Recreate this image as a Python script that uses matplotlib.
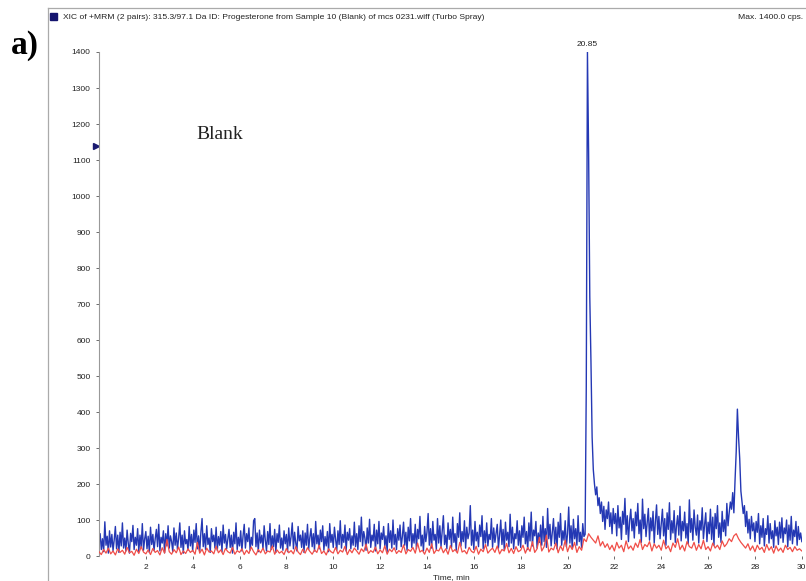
import matplotlib
matplotlib.use("Agg")
import matplotlib.pyplot as plt
import numpy as np
from matplotlib.lines import Line2D
from matplotlib.patches import Rectangle

# XIC intensity (cps), blue trace sampled every 0.05 min from 0 to 30 min
blue_0_10 = [
    35, 62, 18, 48, 12, 95, 30, 55, 8, 70, 25, 60, 15, 45, 82, 20, 58, 10, 66, 28,
    92, 22, 50, 14, 72, 35, 8, 63, 40, 85, 18, 52, 30, 76, 12, 58, 24, 90, 16, 47,
    68, 20, 55, 10, 80, 32, 60, 15, 48, 74, 26, 88, 14, 52, 36, 70, 9, 62, 28, 84,
    22, 56, 40, 12, 78, 30, 64, 18, 50, 92, 24, 58, 8, 70, 34, 46, 16, 82, 28, 60,
    14, 72, 38, 90, 20, 56, 12, 66, 104, 26, 62, 18, 84, 32, 50, 10, 76, 40, 58, 22,
    80, 16, 54, 30, 68, 12, 86, 36, 60, 20, 48, 74, 24, 58, 8, 66, 34, 92, 18, 52,
    28, 70, 14, 56, 88, 22, 62, 40, 78, 16, 52, 30, 98, 104, 26, 64, 12, 72, 36, 58,
    20, 84, 44, 14, 68, 32, 90, 18, 56, 26, 74, 10, 62, 38, 86, 22, 50, 16, 70, 34,
    60, 12, 78, 28, 54, 92, 20, 66, 36, 14, 82, 42, 58, 24, 70, 10, 64, 30, 88, 18,
    52, 76, 26, 62, 14, 96, 34, 58, 20, 72, 40, 84, 16, 54, 28, 68, 12, 90, 38, 60,
]
blue_10_20 = [
    24, 80, 46, 16, 70, 32, 98, 22, 60, 38, 86, 14, 66, 44, 76, 20, 56, 30, 94, 26,
    62, 18, 84, 40, 108, 28, 68, 50, 16, 78, 36, 102, 24, 58, 42, 88, 14, 72, 34, 96,
    20, 64, 46, 82, 28, 56, 12, 90, 38, 70, 22, 100, 32, 60, 18, 76, 44, 86, 26, 54,
    94, 30, 66, 16, 80, 42, 104, 24, 62, 36, 88, 20, 74, 48, 110, 28, 58, 14, 82, 40,
    66, 118, 30, 76, 22, 96, 44, 60, 18, 104, 36, 84, 26, 70, 112, 32, 58, 20, 92, 46,
    74, 24, 108, 38, 62, 16, 90, 52, 120, 28, 68, 40, 98, 22, 80, 48, 64, 140, 30, 72,
    18, 96, 42, 66, 26, 86, 54, 112, 20, 70, 36, 92, 28, 60, 46, 104, 24, 78, 38, 64,
    88, 22, 58, 100, 32, 74, 16, 94, 44, 66, 26, 116, 36, 80, 20, 62, 48, 98, 30, 70,
    24, 84, 52, 108, 34, 68, 18, 92, 42, 122, 28, 72, 56, 96, 22, 64, 38, 86, 30, 110,
    40, 76, 24, 132, 48, 88, 28, 66, 104, 34, 80, 20, 94, 52, 118, 30, 70, 44, 98, 26,
]
blue_20_30 = [
    62, 136, 36, 84, 22, 102, 48, 76, 30, 112, 40, 66, 24, 90, 54, 60, 470, 1400, 1120, 720,
    540, 330, 240, 200, 170, 192, 140, 162, 118, 150, 96, 138, 74, 128, 104, 150, 82, 120, 62, 132,
    90, 118, 56, 140, 78, 108, 46, 124, 88, 160, 60, 112, 40, 98, 130, 70, 104, 50, 122, 84,
    146, 62, 100, 38, 158, 76, 116, 54, 92, 132, 44, 106, 70, 124, 36, 96, 142, 60, 110, 48,
    88, 130, 56, 104, 30, 120, 74, 148, 46, 98, 64, 126, 38, 84, 112, 58, 138, 42, 96, 70,
    122, 50, 90, 34, 156, 66, 104, 44, 128, 80, 58, 114, 36, 98, 72, 134, 48, 86, 120, 40,
    94, 62, 130, 46, 108, 30, 118, 76, 140, 52, 92, 38, 124, 68, 100, 56, 146, 84, 120, 150,
    130, 176, 120, 210, 290, 408, 330, 270, 180, 150, 118, 140, 82, 124, 64, 102, 48, 110, 70, 92,
    40, 96, 66, 118, 34, 84, 52, 104, 28, 76, 60, 112, 36, 90, 48, 70, 24, 98, 56, 80,
    32, 94, 50, 106, 38, 78, 62, 100, 26, 86, 44, 110, 34, 72, 54, 96, 30, 82, 46, 64,
    40,
]

# red trace sampled every 0.1 min from 0 to 30 min
red_0_10 = [
    12, 4, 18, 8, 22, 6, 14, 3, 20, 10, 16, 5, 24, 9, 13, 2, 19, 7, 26, 11,
    6, 17, 4, 21, 10, 15, 3, 23, 8, 46, 12, 5, 18, 9, 25, 4, 14, 7, 20, 10,
    16, 5, 38, 8, 19, 3, 22, 11, 14, 6, 27, 9, 17, 4, 21, 12, 8, 24, 5, 15,
    10, 20, 4, 16, 7, 25, 12, 3, 18, 9, 22, 6, 14, 11, 28, 5, 17, 8, 13, 4,
    21, 9, 15, 6, 26, 11, 4, 19, 8, 23, 13, 5, 17, 10, 30, 7, 14, 3, 20, 12,
]
red_10_20 = [
    8, 24, 6, 16, 11, 27, 4, 18, 9, 22, 14, 5, 20, 12, 33, 7, 15, 10, 25, 6,
    17, 9, 28, 5, 19, 12, 23, 7, 15, 10, 31, 6, 18, 13, 24, 8, 36, 11, 16, 5,
    22, 10, 34, 7, 17, 14, 26, 9, 20, 5, 29, 12, 18, 8, 38, 11, 15, 6, 24, 13,
    9, 27, 5, 19, 12, 32, 8, 16, 22, 10, 28, 6, 18, 14, 35, 9, 21, 7, 26, 12,
    16, 30, 8, 24, 13, 40, 10, 20, 52, 14, 26, 58, 11, 22, 17, 36, 9, 28, 15, 44,
]
red_20_30 = [
    12, 30, 18, 38, 10, 26, 16, 48, 40, 62, 52, 44, 36, 56, 28, 40, 24, 34, 18, 30,
    14, 38, 22, 30, 12, 42, 20, 28, 16, 36, 24, 46, 18, 32, 26, 40, 14, 34, 22, 30,
    16, 44, 20, 28, 12, 36, 24, 48, 18, 30, 14, 40, 26, 22, 38, 16, 32, 20, 44, 18,
    26, 14, 36, 22, 30, 18, 42, 26, 34, 48, 40, 56, 62, 48, 38, 30, 22, 34, 16, 28,
    12, 30, 18, 24, 10, 32, 16, 26, 8, 28, 14, 22, 10, 30, 18, 24, 12, 26, 16, 20,
    14,
]

x_ticks = list(range(2, 31, 2))
y_ticks = list(range(0, 1401, 100))

blue = np.array(blue_0_10 + blue_10_20 + blue_20_30, dtype=float)
red = np.array(red_0_10 + red_10_20 + red_20_30, dtype=float)
t_blue = np.linspace(0, 30, len(blue))
t_red = np.linspace(0, 30, len(red))

small = ['Liberation Sans Narrow', 'Liberation Sans', 'DejaVu Sans']

fig = plt.figure(figsize=(8.06, 5.81), dpi=100)
ax = fig.add_axes([0.1228, 0.043, 0.872, 0.8675])

ax.plot(t_blue, blue, color='#2438b4', lw=1.0, zorder=2)
ax.plot(t_red, red, color='#f04e48', lw=0.9, zorder=3)

ax.set_xlim(0, 30)
ax.set_ylim(0, 1400)
ax.set_xticks(x_ticks)
ax.set_yticks(y_ticks)
ax.tick_params(axis='both', labelsize=6, colors='#555555', labelcolor='#222222', length=2.5, width=0.6)
for lab in ax.get_xticklabels() + ax.get_yticklabels():
    lab.set_family(small)
for s in ['top', 'right', 'bottom']:
    ax.spines[s].set_visible(False)
ax.spines['left'].set_color('#999999')
ax.spines['left'].set_linewidth(0.8)

# apex label
i_max = int(np.argmax(blue))
ax.annotate(f'{t_blue[i_max]:.2f}', xy=(t_blue[i_max], blue[i_max]), xytext=(0, 3),
            textcoords='offset points', ha='center', va='bottom', fontsize=6,
            family=small, color='#222222', annotation_clip=False)

# cursor marker on the y axis
ax.plot([-0.004], [1140], marker='>', color='#1a1a70', markersize=4,
        transform=ax.get_yaxis_transform(), clip_on=False)

ax.text(0.138, 0.837, 'Blank', transform=ax.transAxes, family='Liberation Serif',
        fontsize=14, ha='left', va='center', color='#222222')

# outer frame and header
fig.add_artist(Line2D([0.0596, 0.0596], [0.0, 0.986], color='#aaaaaa', lw=0.9))
fig.add_artist(Line2D([0.0596, 1.0], [0.986, 0.986], color='#aaaaaa', lw=0.9))
fig.add_artist(Rectangle((0.062, 0.9655), 0.0087, 0.012, color='#14146e'))
fig.text(0.078, 0.9705,
         'XIC of +MRM (2 pairs): 315.3/97.1 Da ID: Progesterone from Sample 10 (Blank) of mcs 0231.wiff (Turbo Spray)',
         fontsize=6.1, family=small, ha='left', va='center', color='#222222')
fig.text(0.997, 0.9705, 'Max. 1400.0 cps.', fontsize=6.1, family=small,
         ha='right', va='center', color='#222222')
fig.text(0.56, 0.006, 'Time, min', fontsize=6, family=small, ha='center',
         va='center', color='#222222')
fig.text(0.014, 0.922, 'a)', fontsize=24, family='Liberation Serif',
         fontweight='bold', ha='left', va='center')

fig.savefig('out.png', dpi=100)
